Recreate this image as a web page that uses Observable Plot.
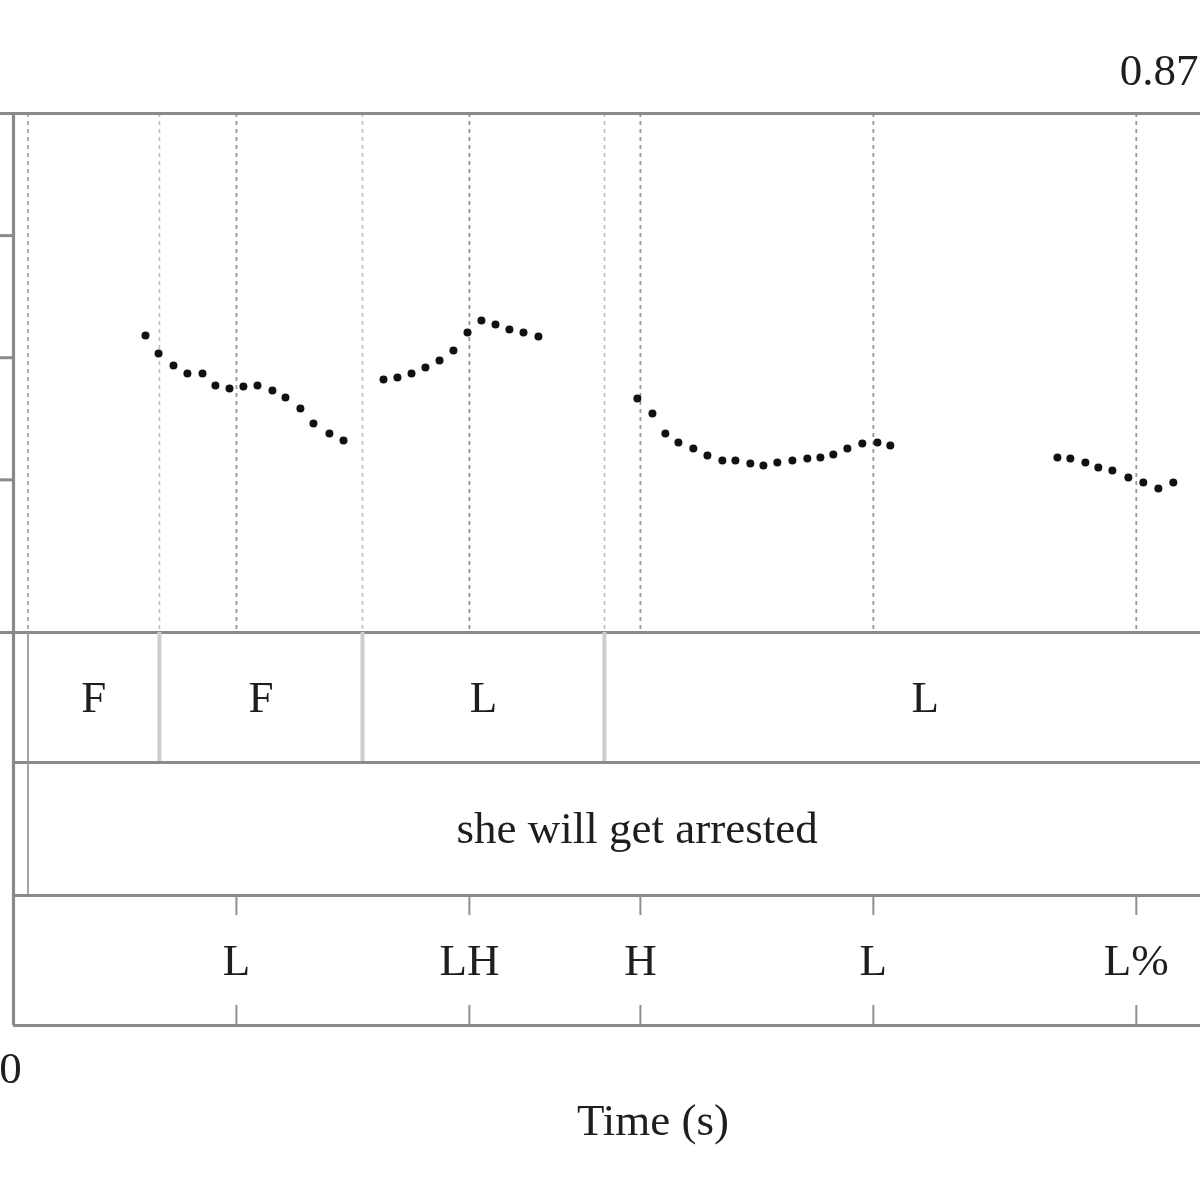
<!DOCTYPE html>
<html><head><meta charset="utf-8">
<script src="https://cdn.jsdelivr.net/npm/d3@7"></script>
<script src="https://cdn.jsdelivr.net/npm/@observablehq/plot@0.6"></script>
<style>
body{margin:0;background:#fff;}
#chart{width:1200px;height:1194px;overflow:hidden;position:relative;background:#fff;filter:blur(0.5px);}
#chart svg{display:block;overflow:visible;background:transparent;max-width:none;}
</style></head><body><div id="chart"></div>
<script>
// ---- data ----
const endTime = 0.8735;
const endLabel = "0.87";
const startLabel = "0";
const xTitle = "Time (s)";
const pitchRange = [87.5, 300];
const yTicks = [150, 200, 250];

const pitchTime = [
  0.0910,0.1000,0.1103,0.1199,0.1303,0.1392,0.1489,0.1585,0.1682,0.1785,0.1875,0.1978,0.2068,0.2178,0.2275,
  0.2551,0.2647,0.2744,0.2840,0.2937,0.3033,0.3130,0.3226,0.3323,0.3419,0.3516,0.3619,
  0.4301,0.4405,0.4494,0.4584,0.4687,0.4784,0.4887,0.4977,0.5080,0.5170,0.5266,0.5370,0.5473,0.5563,0.5652,0.5749,0.5852,0.5956,0.6045,
  0.7197,0.7286,0.7390,0.7479,0.7576,0.7686,0.7789,0.7893,0.7996
];
const pitchHz = [
  209.1,201.7,196.8,193.5,193.5,188.6,187.4,188.2,188.6,186.6,183.7,179.2,173.1,169.0,166.1,
  191.1,191.9,193.5,196.0,198.9,203.0,210.3,215.2,213.6,211.6,210.3,208.7,
  183.3,177.2,169.0,165.3,162.8,160.0,157.9,157.9,156.7,155.9,157.1,157.9,158.7,159.2,160.4,162.8,164.9,165.3,164.1,
  159.2,158.7,157.1,155.1,153.8,151.0,148.9,146.5,148.9
];

const tier1Bounds = [0.0100, 0.1006, 0.2406, 0.4074, 0.8499];
const tier1Labels = ["F", "F", "L", "L"];
const tier2Bounds = [0.0100, 0.8499];
const tier2Labels = ["she will get arrested"];
const toneTimes = [0.1537, 0.3143, 0.4322, 0.5928, 0.7741];
const toneLabels = ["L", "LH", "H", "L", "L%"];

// ---- styling ----
const LINE = "#8a8a8a";
const TEXT = "#1e1e1e";
const FONT = "'Liberation Serif', 'Times New Roman', serif";
const W = 1300;
const xScale = {domain: [0, endTime], range: [13, 1280]};
const baseStyle = {fontFamily: FONT, fontSize: "45px", color: LINE, background: "transparent", overflow: "visible", maxWidth: "none"};
const common = {width: W, marginLeft: 13, marginRight: 20, style: baseStyle};

const intervals = (bounds, labels) => labels.map((lab, i) => ({x1: bounds[i], x2: bounds[i + 1], lab}));
const pitchData = pitchTime.map((t, i) => ({t, f: pitchHz[i]}));
const tones = toneTimes.map((t, i) => ({t, lab: toneLabels[i]}));

const yAxis = Plot.axisY
  ? [Plot.axisY([...pitchRange, ...yTicks], {tickSize: 13, tickFormat: () => "", stroke: LINE, strokeWidth: 3, label: null})]
  : [];

// ---- pitch panel ----
const pitchPlot = Plot.plot({
  ...common, height: 632, marginTop: 113, marginBottom: 0,
  x: {...xScale, axis: null},
  y: Plot.axisY ? {domain: pitchRange, axis: null} : {domain: pitchRange, ticks: [...pitchRange, ...yTicks], tickSize: 13, tickFormat: () => "", label: null},
  marks: [
    Plot.ruleX(tier1Bounds.slice(1), {stroke: "#c2c2c2", strokeWidth: 1.8, strokeDasharray: "4,4"}),
    Plot.ruleX(tier1Bounds.slice(0, 1), {stroke: "#a4a4a4", strokeWidth: 1.8, strokeDasharray: "4,4"}),
    Plot.ruleX(toneTimes, {stroke: "#959595", strokeWidth: 1.8, strokeDasharray: "4,4"}),
    Plot.ruleY(pitchRange, {stroke: LINE, strokeWidth: 3.2}),
    Plot.ruleX([0], {stroke: LINE, strokeWidth: 3.2}),
    ...yAxis,
    Plot.dot(pitchData, {x: "t", y: "f", r: 4, fill: "#111", stroke: "none"}),
    Plot.text([endTime], {x: d => d, text: () => endLabel, frameAnchor: "top", dy: -43, dx: -82, textAnchor: "end", lineAnchor: "middle", fill: TEXT, fontSize: 45})
  ]
});

// ---- tier 1 ----
const tier1Plot = Plot.plot({
  ...common, height: 130, marginTop: 0, marginBottom: 0,
  x: {...xScale, axis: null}, y: {domain: [0, 1], axis: null},
  marks: [
    Plot.ruleX(tier1Bounds.slice(1), {stroke: "#cdcdcd", strokeWidth: 4}),
    Plot.ruleX(tier1Bounds.slice(0, 1), {stroke: "#999", strokeWidth: 1.8}),
    Plot.ruleY([0], {stroke: LINE, strokeWidth: 3.2}),
    Plot.ruleX([0], {stroke: LINE, strokeWidth: 3.2}),
    Plot.text(intervals(tier1Bounds, tier1Labels), {x: d => (d.x1 + d.x2) / 2, text: "lab", frameAnchor: "middle", fill: TEXT, fontSize: 45})
  ]
});

// ---- tier 2 ----
const tier2Plot = Plot.plot({
  ...common, height: 133, marginTop: 0, marginBottom: 0,
  x: {...xScale, axis: null}, y: {domain: [0, 1], axis: null},
  marks: [
    Plot.ruleX(tier2Bounds, {stroke: "#999", strokeWidth: 1.8}),
    Plot.ruleY([0], {stroke: LINE, strokeWidth: 3.2}),
    Plot.ruleX([0], {stroke: LINE, strokeWidth: 3.2}),
    Plot.text(intervals(tier2Bounds, tier2Labels), {x: d => (d.x1 + d.x2) / 2, text: "lab", frameAnchor: "middle", fill: TEXT, fontSize: 45})
  ]
});

// ---- tier 3 (points) + time axis ----
const tier3Plot = Plot.plot({
  ...common, height: 299, marginTop: 0, marginBottom: 169,
  x: {...xScale, axis: null}, y: {domain: [0, 1], axis: null},
  marks: [
    Plot.ruleX(toneTimes, {stroke: "#8f8f8f", strokeWidth: 2, insetBottom: 110}),
    Plot.ruleX(toneTimes, {stroke: "#8f8f8f", strokeWidth: 2, insetTop: 110}),
    Plot.ruleY([0], {stroke: LINE, strokeWidth: 3.2}),
    Plot.ruleX([0], {stroke: LINE, strokeWidth: 3.2}),
    Plot.text(tones, {x: "t", text: "lab", frameAnchor: "middle", fill: TEXT, fontSize: 45}),
    Plot.text([0], {x: d => d, text: () => startLabel, frameAnchor: "bottom", dy: 43, dx: -3, lineAnchor: "middle", fill: TEXT, fontSize: 45}),
    Plot.text([xTitle], {text: d => d, frameAnchor: "bottom", dy: 95, dx: 6, lineAnchor: "middle", fill: TEXT, fontSize: 45})
  ]
});

const chart = document.getElementById("chart");
[pitchPlot, tier1Plot, tier2Plot, tier3Plot].forEach(p => chart.appendChild(p));
</script>
</body></html>
